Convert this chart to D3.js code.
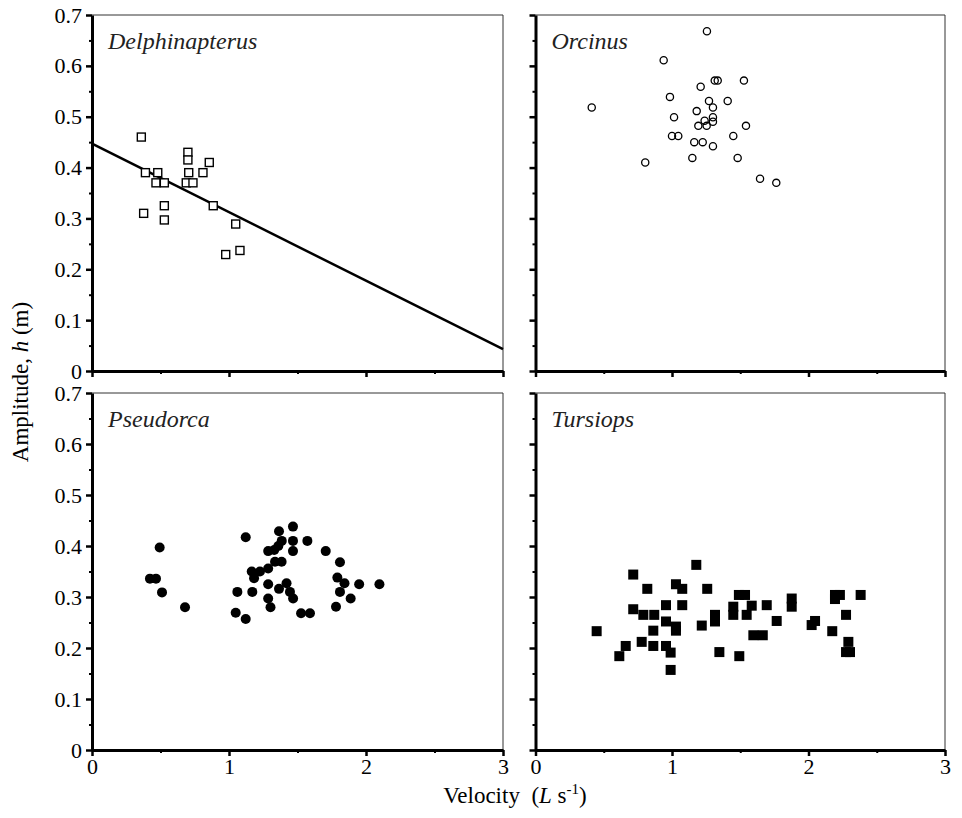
<!DOCTYPE html>
<html>
<head>
<meta charset="utf-8">
<script src="https://cdn.jsdelivr.net/npm/d3@7"></script>
<style>
  body { margin: 0; background: #fff; }
  text { font-family: "Liberation Serif", "Times New Roman", Times, "DejaVu Serif", serif; fill: #000; }
</style>
</head>
<body>
<svg id="chart" width="962" height="818"></svg>
<script>
// tick values
const velocityTicks = [0, 1, 2, 3];
const velocityMinor = [0.5, 1.5, 2.5];
const amplitudeTicks = [0, 0.1, 0.2, 0.3, 0.4, 0.5, 0.6, 0.7];
const amplitudeMinor = [0.05, 0.15, 0.25, 0.35, 0.45, 0.55, 0.65];

// [velocity, amplitude]
const delphinapterus = [
    [0.36, 0.46], [0.70, 0.43], [0.70, 0.415], [0.856, 0.41], [0.39, 0.39],
    [0.48, 0.39], [0.706, 0.39], [0.81, 0.39], [0.467, 0.37], [0.528, 0.37],
    [0.688, 0.37], [0.737, 0.37], [0.885, 0.325], [0.528, 0.325], [0.377, 0.31],
    [0.528, 0.297], [1.049, 0.289], [0.976, 0.229], [1.08, 0.237]
];
const delphinapterusFit = [0.447, -0.1347]; // intercept, slope

const orcinus = [
    [1.256, 0.668], [0.939, 0.611], [0.412, 0.518], [0.985, 0.539], [1.015, 0.499],
    [1.0, 0.462], [1.046, 0.462], [0.804, 0.41], [1.21, 0.559], [1.313, 0.571],
    [1.335, 0.571], [1.527, 0.571], [1.271, 0.531], [1.408, 0.531], [1.30, 0.518],
    [1.181, 0.511], [1.30, 0.499], [1.239, 0.492], [1.30, 0.49], [1.193, 0.482],
    [1.254, 0.482], [1.542, 0.482], [1.449, 0.462], [1.163, 0.45], [1.225, 0.45],
    [1.30, 0.442], [1.149, 0.419], [1.481, 0.419], [1.645, 0.378], [1.764, 0.37]
];

const pseudorca = [
    [0.494, 0.397], [0.423, 0.336], [0.467, 0.336], [0.511, 0.309], [0.679, 0.28],
    [1.122, 0.417], [1.365, 0.429], [1.467, 0.438], [1.385, 0.41], [1.467, 0.41],
    [1.572, 0.41], [1.286, 0.39], [1.33, 0.392], [1.36, 0.40], [1.467, 0.39],
    [1.706, 0.39], [1.81, 0.368], [1.384, 0.369], [1.336, 0.369], [1.286, 0.356],
    [1.226, 0.35], [1.166, 0.35], [1.183, 0.337], [1.791, 0.338], [1.843, 0.327],
    [1.95, 0.325], [2.098, 0.325], [1.286, 0.325], [1.42, 0.327], [1.365, 0.316],
    [1.445, 0.31], [1.468, 0.297], [1.81, 0.31], [1.888, 0.297], [1.781, 0.281],
    [1.061, 0.31], [1.17, 0.31], [1.286, 0.297], [1.303, 0.28], [1.049, 0.269],
    [1.122, 0.257], [1.526, 0.268], [1.591, 0.268]
];

const tursiops = [
    [1.178, 0.363], [0.716, 0.344], [0.819, 0.316], [1.029, 0.325], [1.075, 0.316],
    [1.258, 0.316], [1.49, 0.304], [1.535, 0.304], [1.449, 0.281], [1.584, 0.283],
    [0.956, 0.284], [1.075, 0.284], [0.716, 0.276], [0.79, 0.265], [0.87, 0.265],
    [0.956, 0.252], [1.029, 0.242], [1.315, 0.265], [1.315, 0.252], [1.449, 0.265],
    [1.547, 0.265], [1.218, 0.244], [1.029, 0.234], [0.863, 0.234], [0.448, 0.233],
    [1.596, 0.225], [1.665, 0.225], [0.778, 0.212], [0.863, 0.204], [0.661, 0.204],
    [0.956, 0.204], [0.99, 0.191], [0.614, 0.184], [1.347, 0.192], [1.493, 0.184],
    [0.99, 0.157], [1.694, 0.284], [1.877, 0.297], [1.877, 0.281], [1.767, 0.253],
    [2.048, 0.253], [2.023, 0.245], [2.194, 0.304], [2.23, 0.304], [2.194, 0.296],
    [2.382, 0.304], [2.275, 0.265], [2.174, 0.233], [2.292, 0.212], [2.275, 0.192],
    [2.304, 0.192]
];

const svg = d3.select("#chart");

const cols = [[92, 503], [535.5, 945]];
const rows = [[15, 371], [393, 750]];

const panels = [
    { name: "Delphinapterus", data: delphinapterus, symbol: "openSquare", col: 0, row: 0, fit: delphinapterusFit },
    { name: "Orcinus", data: orcinus, symbol: "openCircle", col: 1, row: 0 },
    { name: "Pseudorca", data: pseudorca, symbol: "dot", col: 0, row: 1 },
    { name: "Tursiops", data: tursiops, symbol: "square", col: 1, row: 1 }
];

const yFmt = d => d === 0 ? "0" : d3.format(".1f")(d);

function drawPanel(p) {
    const [x0, x1] = cols[p.col];
    const [y0, y1] = rows[p.row];
    const x = d3.scaleLinear().domain([0, 3]).range([x0, x1]);
    const y = d3.scaleLinear().domain([0, 0.7]).range([y1, y0]);
    const g = svg.append("g");

    // thin top and right border
    g.append("path")
        .attr("d", `M${x0},${y0}H${x1}V${y1}`)
        .attr("fill", "none")
        .attr("stroke", "#333")
        .attr("stroke-width", 1);

    // minor ticks
    g.append("g")
        .attr("transform", `translate(${x0},0)`)
        .call(d3.axisLeft(y).tickValues(amplitudeMinor).tickSize(3).tickFormat(""))
        .call(a => a.select(".domain").remove())
        .selectAll("line").attr("stroke-width", 2);
    g.append("g")
        .attr("transform", `translate(0,${y1})`)
        .call(d3.axisBottom(x).tickValues(velocityMinor).tickSize(3).tickFormat(""))
        .call(a => a.select(".domain").remove())
        .selectAll("line").attr("stroke-width", 2);

    // major axes
    const yAxis = g.append("g")
        .attr("transform", `translate(${x0},0)`)
        .call(d3.axisLeft(y).tickValues(amplitudeTicks).tickSize(6).tickSizeOuter(0)
            .tickPadding(4).tickFormat(p.col === 0 ? yFmt : ""));
    const xAxis = g.append("g")
        .attr("transform", `translate(0,${y1})`)
        .call(d3.axisBottom(x).tickValues(velocityTicks).tickSize(6).tickSizeOuter(0)
            .tickPadding(2).tickFormat(p.row === 1 ? d3.format("d") : ""));
    [yAxis, xAxis].forEach(a => {
        a.attr("font-family", null);
        a.select(".domain").attr("stroke-width", 3);
        a.selectAll(".tick line").attr("stroke-width", 2.5);
        a.selectAll("text")
            .attr("font-size", "22px")
            .attr("fill", "#000");
    });
    xAxis.selectAll("text").attr("dy", "0.71em");

    // regression line
    if (p.fit) {
        const [a, b] = p.fit;
        g.append("line")
            .attr("x1", x(0)).attr("y1", y(a))
            .attr("x2", x(3)).attr("y2", y(a + b * 3))
            .attr("stroke", "#000")
            .attr("stroke-width", 2.5);
    }

    // points
    const pts = g.append("g");
    if (p.symbol === "openSquare") {
        pts.selectAll("rect").data(p.data).join("rect")
            .attr("x", d => x(d[0]) - 4).attr("y", d => y(d[1]) - 4)
            .attr("width", 8).attr("height", 8)
            .attr("fill", "#fff").attr("stroke", "#000").attr("stroke-width", 1.4);
    } else if (p.symbol === "openCircle") {
        pts.selectAll("circle").data(p.data).join("circle")
            .attr("cx", d => x(d[0])).attr("cy", d => y(d[1])).attr("r", 3.6)
            .attr("fill", "none").attr("stroke", "#000").attr("stroke-width", 1.3);
    } else if (p.symbol === "dot") {
        pts.selectAll("circle").data(p.data).join("circle")
            .attr("cx", d => x(d[0])).attr("cy", d => y(d[1])).attr("r", 5)
            .attr("fill", "#000");
    } else {
        pts.selectAll("rect").data(p.data).join("rect")
            .attr("x", d => x(d[0]) - 5).attr("y", d => y(d[1]) - 5)
            .attr("width", 10).attr("height", 10)
            .attr("fill", "#000");
    }

    // species label
    g.append("text")
        .attr("x", x0 + 16)
        .attr("y", y0 + 34)
        .attr("font-size", "24px")
        .attr("font-style", "italic")
        .style("fill", "#222")
        .text(p.name);
}

panels.forEach(drawPanel);

// axis titles
const yTitle = svg.append("text")
    .attr("transform", "translate(28,382) rotate(-90)")
    .attr("text-anchor", "middle")
    .attr("font-size", "23px");
yTitle.append("tspan").text("Amplitude, ");
yTitle.append("tspan").attr("font-style", "italic").text("h");
yTitle.append("tspan").text(" (m)");

const xTitle = svg.append("text")
    .attr("x", 515)
    .attr("y", 803)
    .attr("text-anchor", "middle")
    .attr("font-size", "23px");
xTitle.append("tspan").text("Velocity\u00a0\u00a0(");
xTitle.append("tspan").attr("font-style", "italic").text("L");
xTitle.append("tspan").text(" s");
xTitle.append("tspan").attr("font-size", "15px").attr("dy", "-9").text("-1");
xTitle.append("tspan").attr("dy", "9").text(")");
</script>
</body>
</html>
